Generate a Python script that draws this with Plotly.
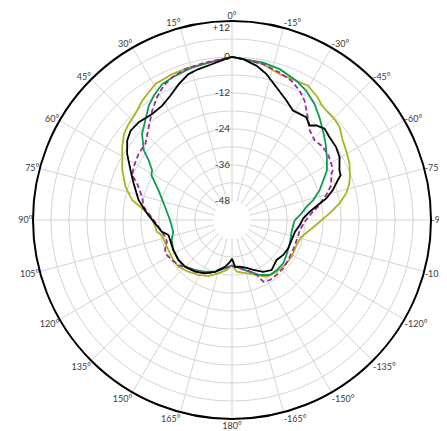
import plotly.graph_objects as go

# ---- data (angle in degrees, level in dB) ----
black_theta = [-180, -176.3, -170.3, -162.9, -156.9, -148.8, -141.6, -138.5, -131.8, -124.3, -116.7, -108.5,
               -100.5, -94.2, -88.6, -83.9, -80.1, -77.1, -73.5, -69.4, -67.6, -65.2, -59.6, -55.0, -49.6,
               -45.4, -41.7, -39.4, -35.9, -32.5, -29.1, -24.5, -18.5, -13.3, -9.1, -4.0, 0, 2.5, 7.4, 12.5,
               16.6, 21.4, 26.4, 31.4, 37.0, 43.6, 48.6, 52.8, 57.7, 63.9, 69.6, 77.9, 85.5, 92.5, 99.4,
               103.3, 107.9, 117.1, 126.7, 134.8, 144.4, 153.1, 161.8, 171.5, 177.3, 180]
black_db = [-41.5, -38.7, -38.6, -37.7, -36.3, -34.2, -33.1, -33.6, -34.4, -33.7, -33.4, -33.4,
            -33.0, -31.7, -30.6, -28.3, -25.3, -22.1, -19.3, -16.7, -15.2, -14.9, -12.8, -12.0, -11.7,
            -11.0, -12.1, -13.6, -12.1, -12.4, -12.6, -10.6, -7.7, -4.4, -2.3, -0.6, 0, -0.7, -2.0, -2.8,
            -3.6, -5.7, -8.1, -9.7, -10.1, -9.3, -9.3, -10.5, -13.0, -16.7, -19.4, -22.5, -25.9, -28.7, -30.6,
            -32.6, -32.7, -32.4, -32.1, -32.3, -33.2, -34.4, -36.2, -38.6, -40.4, -41.5]

olive_theta = [-180, -174.8, -164.6, -155.8, -148.5, -139.1, -130.3, -121.6, -111.1, -103.5, -97.3, -91.1,
               -86.1, -81.2, -76.9, -72.7, -69.2, -64.3, -58.6, -54.3, -49.2, -45.4, -40.7, -37.5, -35.0,
               -29.5, -24.8, -18.1, -11.3, -4.0, 0, 9.7, 15.9, 22.3, 29.4, 37.0, 42.3, 47.0, 51.4, 56.4,
               65.6, 72.7, 78.7, 82.6, 86.5, 95.0, 98.8, 102.0, 115.2, 124.3, 131.0, 139.8, 148.5, 157.1,
               165.6, 173.9, 180]
olive_db = [-39.3, -37.1, -35.9, -34.3, -32.2, -31.6, -31.2, -31.0, -31.3, -30.5, -28.2, -25.1,
            -21.8, -18.1, -15.3, -13.4, -12.3, -10.9, -9.8, -8.9, -7.0, -6.4, -6.2, -5.6, -4.5,
            -2.9, -3.2, -3.2, -1.4, -0.6, 0, -1.5, -1.5, -1.8, -2.3, -4.6, -6.5, -7.3, -8.3, -10.4,
            -14.2, -17.2, -20.4, -24.1, -27.0, -28.7, -29.0, -30.4, -30.9, -30.7, -30.7, -31.8, -32.9, -34.1,
            -36.0, -37.6, -39.3]

green_theta = [-180, -170.6, -160.8, -153.0, -145.4, -138.2, -130.2, -122.6, -111.9, -101.1, -94.7, -90,
               -87.2, -84.5, -79.9, -76.2, -71.2, -65.0, -62.3, -56.4, -50.8, -45.4, -40.4, -35.4, -29.9,
               -24.8, -17.6, -11.2, -4.0, 0, 8.5, 14.7, 21.5, 27.2, 32.2, 36.0, 39.9, 46.2, 51.7, 54.4,
               58.1, 60.9, 67.9, 78.8, 90, 101.3, 108.3, 117.1, 126.7, 134.8, 143.5, 152.4, 161.8, 171.8, 180]
green_db = [-39.3, -38.0, -36.1, -33.8, -32.1, -32.0, -32.0, -32.8, -33.6, -34.1, -33.9, -33.4,
            -32.3, -31.1, -29.1, -26.5, -23.5, -20.3, -18.6, -16.4, -14.1, -11.8, -9.4, -6.9, -4.7,
            -3.2, -1.6, -0.9, -0.6, 0, -1.3, -1.8, -2.7, -3.4, -5.4, -7.2, -9.7, -12.8, -16.9, -20.2,
            -23.0, -23.6, -27.9, -31.6, -33.7, -34.4, -33.2, -32.4, -32.1, -32.3, -33.7, -34.9, -36.2, -38.1, -39.3]

purple_theta = [-180, -174.3, -163.6, -155.8, -153.1, -147.7, -140.9, -133.3, -125.4, -116.1, -107.2, -98.4,
                -91.3, -85.2, -81.2, -75.2, -70.7, -65.7, -63.7, -60.4, -55.3, -50.1, -46.1, -40.9, -36.4,
                -31.3, -27.6, -23.1, -17.9, -11.3, -4.0, 0, 9.7, 17.2, 22.8, 27.0, 31.4, 36.1, 41.9, 48.6,
                54.6, 61.6, 65.8, 69.0, 75.5, 81.5, 85.4, 95.2, 104.0, 108.4, 114.1, 118.2, 123.6, 130.0,
                137.9, 146.9, 156.0, 164.7, 175.5, 180]
purple_db = [-39.0, -38.7, -37.0, -34.3, -31.3, -30.7, -30.8, -30.9, -31.4, -31.7, -31.8, -31.5,
             -30.1, -27.8, -25.4, -21.9, -19.3, -18.1, -16.9, -16.3, -15.5, -15.6, -16.1, -14.8, -11.8,
             -7.8, -5.7, -3.9, -2.7, -1.4, -0.6, 0, -1.1, -1.7, -2.8, -4.1, -6.4, -9.2, -12.8, -15.9,
             -16.2, -17.1, -17.9, -20.5, -23.4, -24.6, -26.4, -29.8, -31.4, -31.5, -29.9, -29.7, -30.3, -31.0,
             -32.7, -33.8, -34.9, -37.1, -38.7, -39.0]

angle_ticks = list(range(0, 360, 15))
angle_labels = [f"{a}°" if a <= 180 else f"{a - 360}°" for a in angle_ticks]
radial_ticks = list(range(-48, 13, 6))
radial_labels = ["-48", "", "-36", "", "-24", "", "-12", "", "0", "", "<br>+12"]

fig = go.Figure()
series = [
    (olive_theta, olive_db, "#aab41e", "solid"),
    (green_theta, green_db, "#0e9b55", "solid"),
    (purple_theta, purple_db, "#9a2d98", "5px,3px"),
    (black_theta, black_db, "#000000", "solid"),
]
for th, r, col, dash in series:
    fig.add_trace(go.Scatterpolar(theta=th, r=r, mode="lines",
                                  line=dict(color=col, width=1.8, dash=dash),
                                  showlegend=False, hoverinfo="skip"))

fig.update_layout(
    width=447, height=431, autosize=False,
    margin=dict(l=25, r=24, t=13, b=20),
    paper_bgcolor="white",
    font=dict(family="Lato, sans-serif", size=9, color="#3a3a3a"),
    polar=dict(
        domain=dict(x=[0, 1], y=[0, 1]),
        bgcolor="white",
        hole=0.094,
        angularaxis=dict(rotation=90, direction="counterclockwise",
                         tickmode="array", tickvals=angle_ticks, ticktext=angle_labels,
                         showline=False, gridcolor="#d4d4d4", gridwidth=1, ticks="",
                         tickfont=dict(size=9, color="#3a3a3a")),
        radialaxis=dict(range=[-48.15, 12], tickmode="array", tickvals=radial_ticks,
                        ticktext=radial_labels, angle=90, tickangle=90, side="counterclockwise",
                        showline=False, ticks="", gridcolor="#d4d4d4", gridwidth=1,
                        tickfont=dict(size=10, color="#3a3a3a")),
    ),
    shapes=[dict(type="circle", xref="paper", yref="paper", x0=0, x1=1, y0=0, y1=1,
                 line=dict(color="black", width=2), layer="above")],
)
fig.write_html("out.html")
